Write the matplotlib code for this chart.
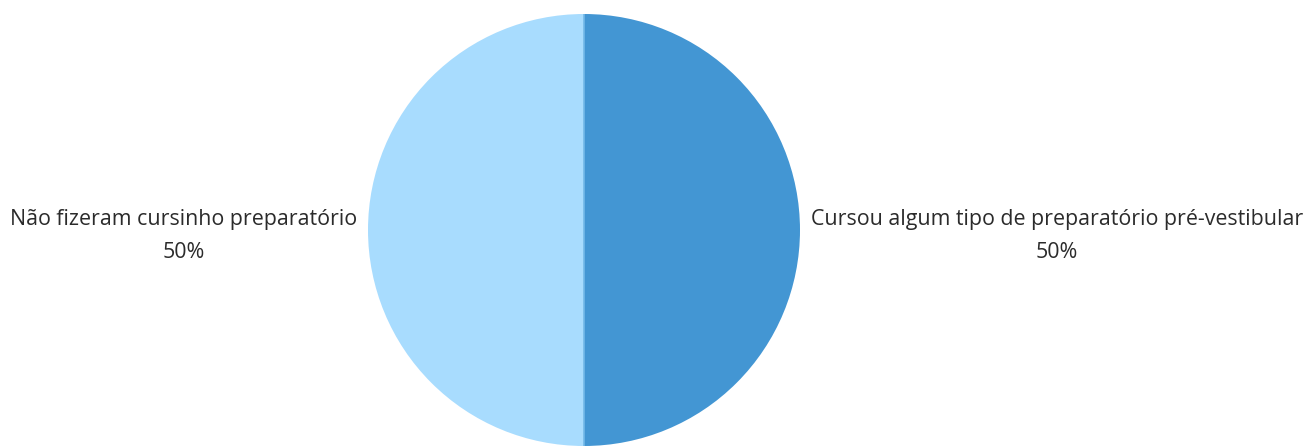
import numpy as np
import matplotlib.pyplot as plt

# respostas sobre cursinho preparatório
categorias = ['Cursou algum tipo de preparatório pré-vestibular',
              'Não fizeram cursinho preparatório']
valores = [50, 50]
cores = ['#4396d3', '#a8dcfe']

W, H = 1313, 447

fig = plt.figure(figsize=(W / 100, H / 100), dpi=100)
ax = fig.add_axes([0, 0, 1, 1])

total = sum(valores)
rotulos = ['{}\n{:.0f}%'.format(c, v * 100 / total) for c, v in zip(categorias, valores)]

cx, cy, r = 584, 217, 216
wedges, textos = ax.pie(
    valores,
    labels=rotulos,
    colors=cores,
    startangle=90,
    counterclock=False,
    center=(cx, cy),
    radius=r,
    labeldistance=1.05,
    wedgeprops=dict(linewidth=0),
    textprops=dict(fontsize=15.4, family='Open Sans', color='#2b2b2b',
                   multialignment='center', linespacing=1.78),
    frame=True,
)

# alinhamento pelo lado do centro (o pie compara com x absoluto)
for t in textos:
    x, y = t.get_position()
    t.set_ha('left' if x > cx else 'right')
    t.set_position((x, y - 6))

# linhas divisórias entre as fatias
for w in wedges:
    a = np.deg2rad(w.theta1)
    ax.plot([cx, cx + r * np.cos(a)], [cy, cy + r * np.sin(a)],
            color='#72b8e8', lw=1.2, solid_capstyle='butt')

ax.set_xlim(0, W)
ax.set_ylim(0, H)
ax.set_aspect('equal')
ax.axis('off')

fig.savefig('out.png', dpi=100)
